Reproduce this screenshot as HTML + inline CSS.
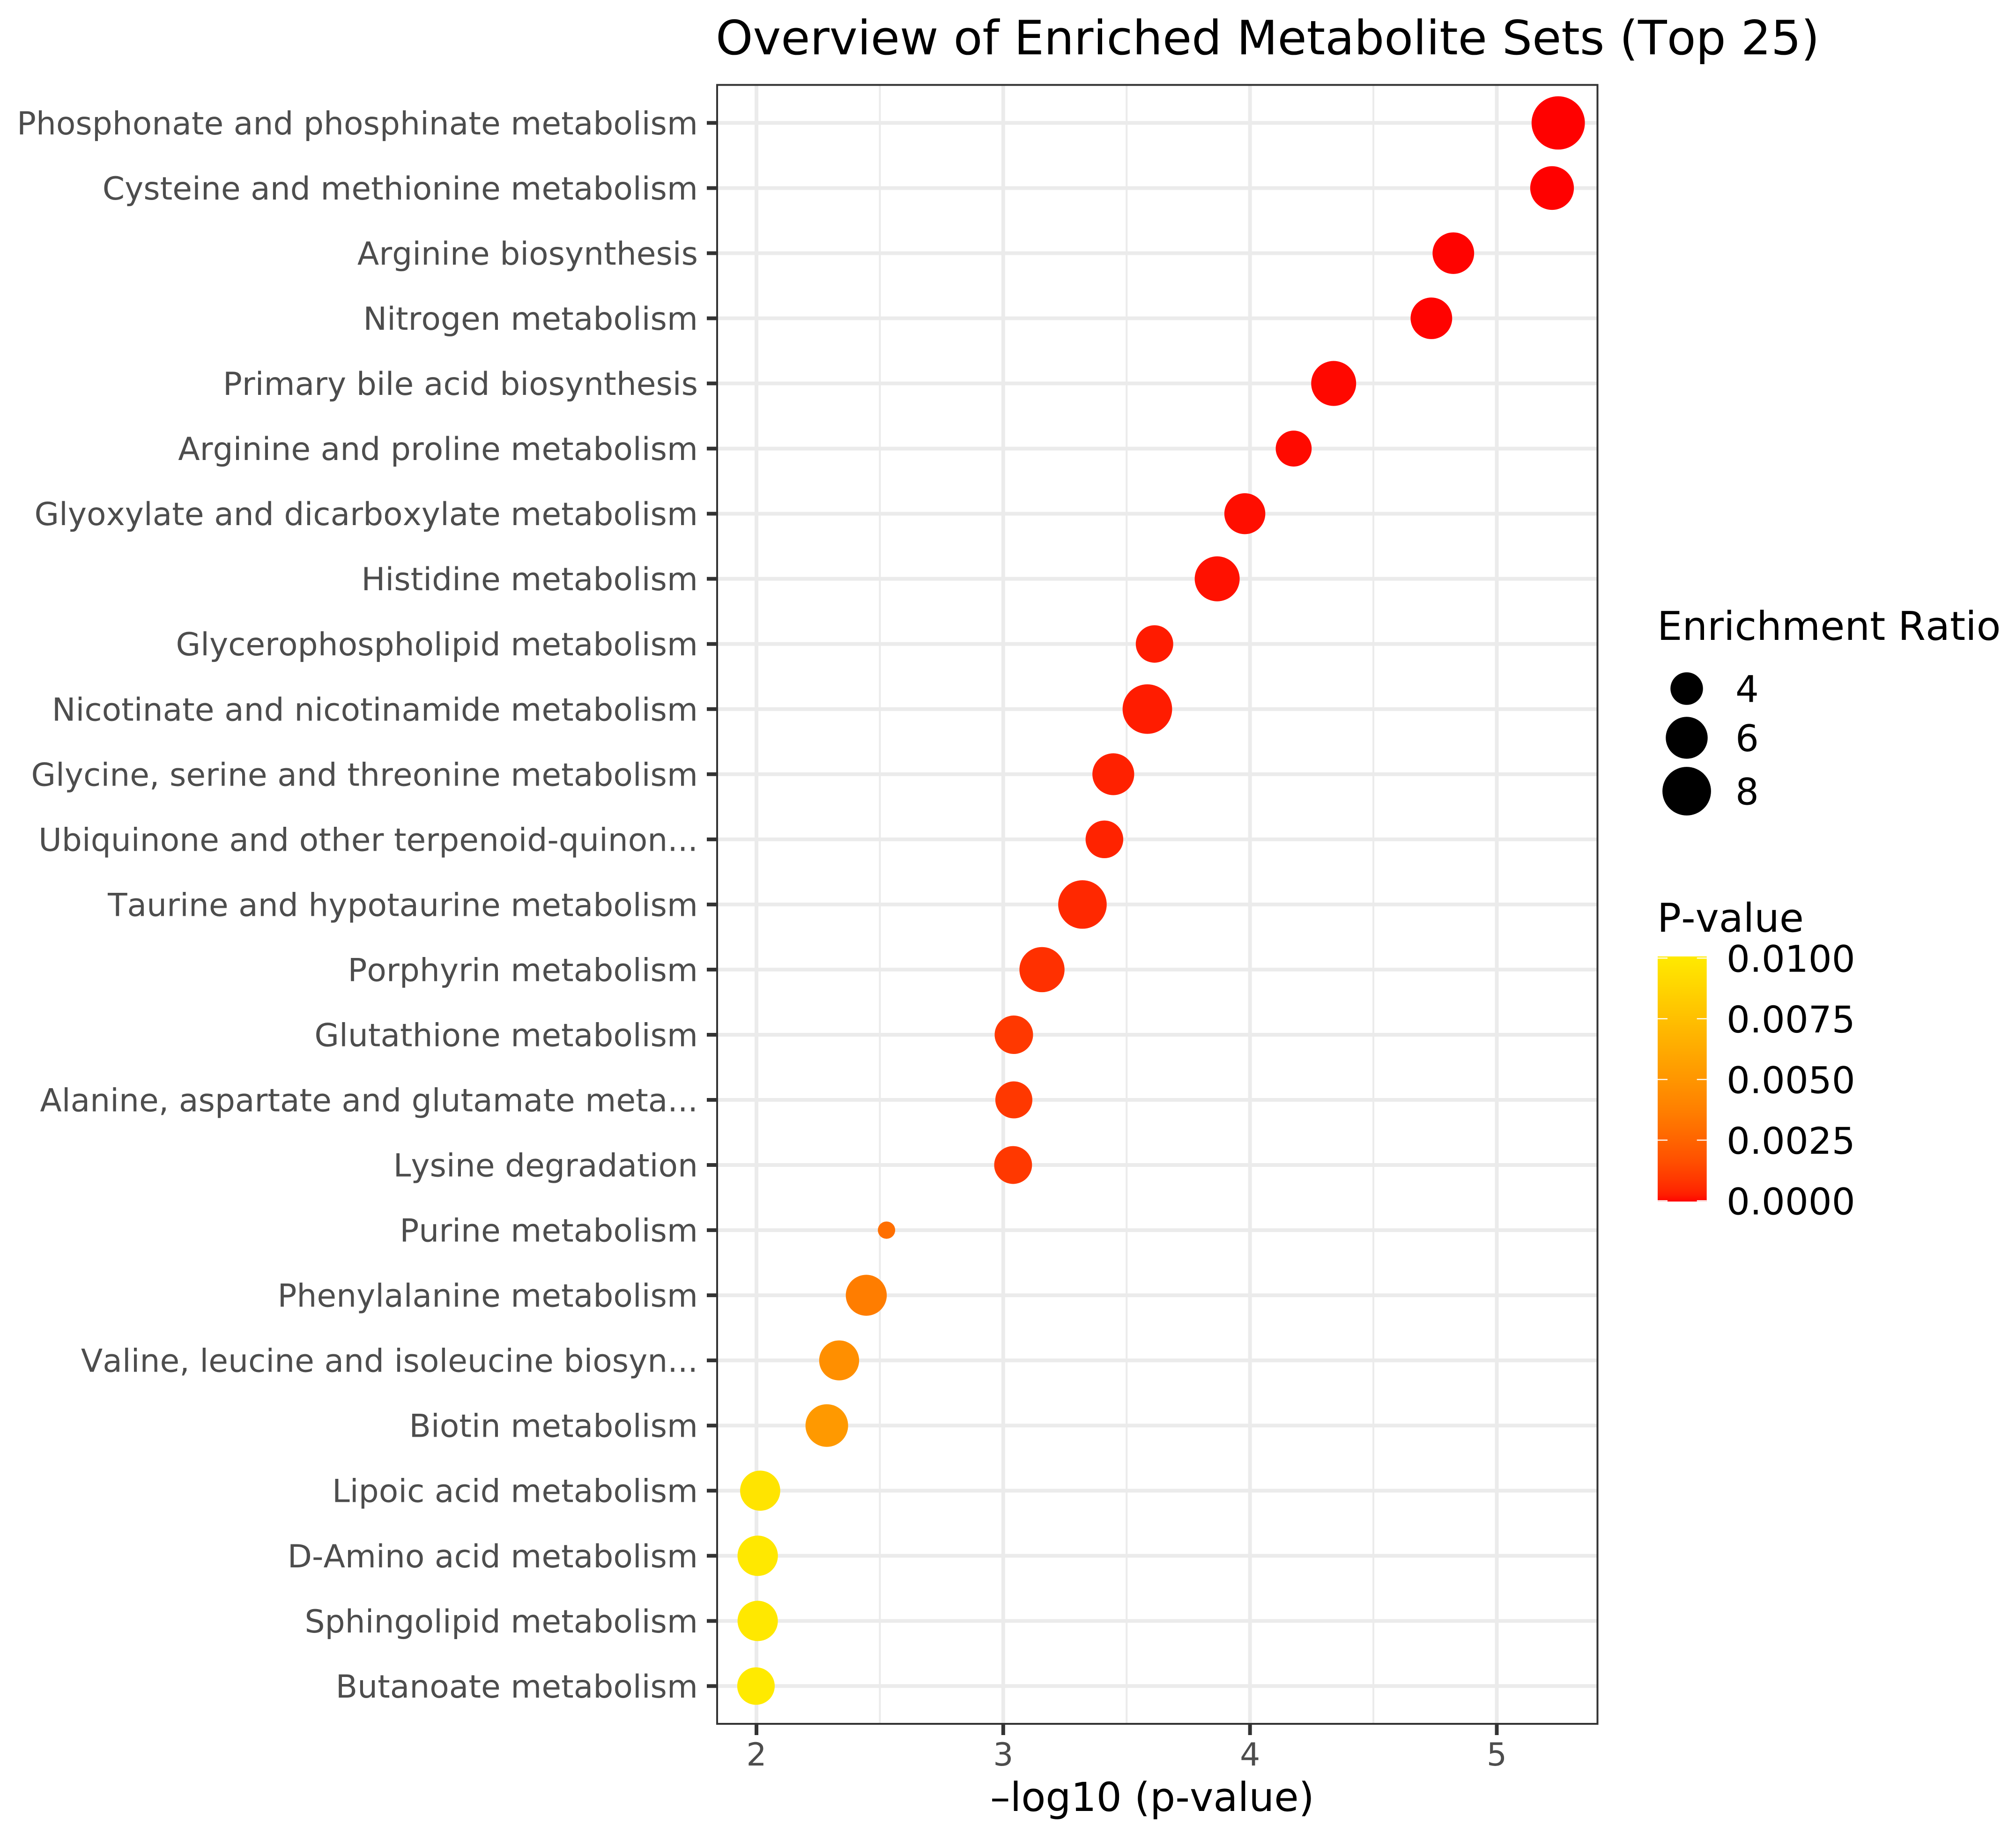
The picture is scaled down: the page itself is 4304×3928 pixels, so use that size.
<!DOCTYPE html>
<html lang="en">
<head>
<meta charset="utf-8">
<title>Overview of Enriched Metabolite Sets (Top 25)</title>
<style>
html,body{margin:0;padding:0;background:#fff;}
svg{display:block;}
text{font-family:"DejaVu Sans","Liberation Sans",sans-serif;text-rendering:geometricPrecision;font-kerning:none;}
</style>
</head>
<body>
<svg id="chart" xmlns="http://www.w3.org/2000/svg" width="4304" height="3928" viewBox="0 0 4304 3928">
  <rect x="0" y="0" width="4304" height="3928" fill="#ffffff"/>
  <text x="1528" y="116" font-size="101" fill="#000">Overview of Enriched Metabolite Sets (Top 25)</text>
  <g id="grid"></g>
  <g id="points"></g>
  <rect x="1531" y="181.3" width="1879.5" height="3498.7" fill="none" stroke="#333" stroke-width="4"/>
  <g id="yaxis"></g>
  <g id="xaxis"></g>
  <text x="2114" y="3866" font-size="85.2" fill="#000">–log10 (p-value)</text>
  <g id="sizeLegend">
    <text x="3538" y="1366" font-size="84.7" fill="#000">Enrichment Ratio</text>
  </g>
  <g id="colorLegend">
    <text x="3538" y="1989" font-size="84.7" fill="#000">P-value</text>
    <defs>
      <linearGradient id="pGradient" x1="0" y1="1" x2="0" y2="0"></linearGradient>
    </defs>
  </g>
</svg>
<script>
const categories = [
  "Phosphonate and phosphinate metabolism",
  "Cysteine and methionine metabolism",
  "Arginine biosynthesis",
  "Nitrogen metabolism",
  "Primary bile acid biosynthesis",
  "Arginine and proline metabolism",
  "Glyoxylate and dicarboxylate metabolism",
  "Histidine metabolism",
  "Glycerophospholipid metabolism",
  "Nicotinate and nicotinamide metabolism",
  "Glycine, serine and threonine metabolism",
  "Ubiquinone and other terpenoid-quinon...",
  "Taurine and hypotaurine metabolism",
  "Porphyrin metabolism",
  "Glutathione metabolism",
  "Alanine, aspartate and glutamate meta...",
  "Lysine degradation",
  "Purine metabolism",
  "Phenylalanine metabolism",
  "Valine, leucine and isoleucine biosyn...",
  "Biotin metabolism",
  "Lipoic acid metabolism",
  "D-Amino acid metabolism",
  "Sphingolipid metabolism",
  "Butanoate metabolism"
];
const negLogP = [5.249,5.224,4.824,4.735,4.339,4.177,3.979,3.867,3.613,3.584,3.446,3.410,3.321,3.157,3.043,3.043,3.040,2.527,2.445,2.335,2.285,2.015,2.005,2.005,1.998];
const enrichmentRatio = [9.70,6.49,5.92,5.92,6.86,4.62,5.76,6.86,4.93,8.33,5.98,4.98,7.98,6.91,5.15,4.84,5.02,2.76,5.76,5.51,6.19,5.55,5.61,5.59,4.94];
const xMajorTicks = [2,3,4,5];
const xMinorTicks = [2.5,3.5,4.5];
const sizeLegendValues = [4,6,8];
const colorLegendTicks = ["0.0000","0.0025","0.0050","0.0075","0.0100"];
const colorStopPosition = [0,0.005,0.026,0.048,0.07,0.09,0.16,0.25,0.36,0.5,0.75,1];
const colorStopGreen = [0,9,28,40,48,56,78,100,125,150,192,234];

const SVGNS = "http://www.w3.org/2000/svg";
const panel = {left:1531, right:3410.5, top:181.3, bottom:3680};
const xScale = v => 1615 + (v - 2) * 526.83;
const yScale = i => 262.4 + i * 139.04;
const sizeScale = r => 37 + 76.8 * Math.sqrt(Math.max(0, (r - 2.76) / 6.94));
const pValue = nl => Math.pow(10, -nl);
function colorScale(p) {
  const t = Math.min(1, Math.max(0, p / 0.01));
  let k = 0;
  while (k < colorStopPosition.length - 2 && t > colorStopPosition[k + 1]) k++;
  const f = (t - colorStopPosition[k]) / (colorStopPosition[k + 1] - colorStopPosition[k]);
  const g = colorStopGreen[k] + f * (colorStopGreen[k + 1] - colorStopGreen[k]);
  return "rgb(255," + Math.round(g) + ",0)";
}
function make(tag, attrs, parent, text) {
  const el = document.createElementNS(SVGNS, tag);
  for (const k in attrs) el.setAttribute(k, attrs[k]);
  if (text !== undefined) el.textContent = text;
  parent.appendChild(el);
  return el;
}

const gridG = document.getElementById("grid");
const pointsG = document.getElementById("points");
const yG = document.getElementById("yaxis");
const xG = document.getElementById("xaxis");
const sizeG = document.getElementById("sizeLegend");
const colorG = document.getElementById("colorLegend");

xMinorTicks.forEach(v => {
  const l = make("line", {x1:xScale(v), x2:xScale(v), y1:panel.top, y2:panel.bottom, stroke:"#ebebeb", "stroke-width":4}, gridG);
  
  
});
xMajorTicks.forEach(v => {
  const l = make("line", {x1:xScale(v), x2:xScale(v), y1:panel.top, y2:panel.bottom, stroke:"#ebebeb", "stroke-width":8}, gridG);
  
  
  const t = make("line", {x1:xScale(v), x2:xScale(v), y1:panel.bottom, y2:3704, stroke:"#333", "stroke-width":8}, xG);
  
  
  const lab = make("text", {x:xScale(v), y:3769, "font-size":67.85, fill:"#4d4d4d", "text-anchor":"middle"}, xG, String(v));
  
  
});

categories.forEach((name, i) => {
  const y = yScale(i);
  const g = make("line", {x1:panel.left, x2:panel.right, y1:y, y2:y, stroke:"#ebebeb", "stroke-width":8}, gridG);
  
  
  const t = make("line", {x1:1509, x2:panel.left, y1:y, y2:y, stroke:"#333", "stroke-width":8}, yG);
  
  
  const lab = make("text", {x:1490, y:y + 24.5, "font-size":67.85, fill:"#4d4d4d", "text-anchor":"end"}, yG, name);
  
  
});

negLogP.forEach((v, i) => {
  const c = make("circle", {cx:xScale(v), cy:yScale(i), r:sizeScale(enrichmentRatio[i]) / 2, fill:colorScale(pValue(v))}, pointsG);
  
  
  make("title", {}, c, categories[i]);
});

const sizeKeyCenter = {4:1470, 6:1575, 8:1689};
sizeLegendValues.forEach(v => {
  const cy = sizeKeyCenter[v];
  const k = make("circle", {cx:3601, cy:cy, r:sizeScale(v) / 2, fill:"#000"}, sizeG);
  
  
  const lab = make("text", {x:3705, y:cy + 28.5, "font-size":78.5, fill:"#000"}, sizeG, String(v));
  
  
});

const gradient = document.getElementById("pGradient");
colorStopPosition.forEach((t, i) => {
  make("stop", {offset:t, "stop-color":"rgb(255," + colorStopGreen[i] + ",0)"}, gradient);
});
const barY = p => 2563.5 - (p / 0.01) * 518.2;
const bar = make("rect", {x:3539, y:barY(0.01) - 3.5, width:104.7, height:barY(0) - barY(0.01) + 5, fill:"url(#pGradient)"}, colorG);


colorLegendTicks.forEach(label => {
  const y = barY(parseFloat(label));
  const tl = make("line", {x1:3539, x2:3560, y1:y, y2:y, stroke:"#fff", "stroke-width":2.4}, colorG);
  
  
  const tr = make("line", {x1:3622.7, x2:3643.7, y1:y, y2:y, stroke:"#fff", "stroke-width":2.4}, colorG);
  
  
  const lab = make("text", {x:3686, y:y + 29, "font-size":78.5, fill:"#000"}, colorG, label);
  
  
});
</script>
</body>
</html>
